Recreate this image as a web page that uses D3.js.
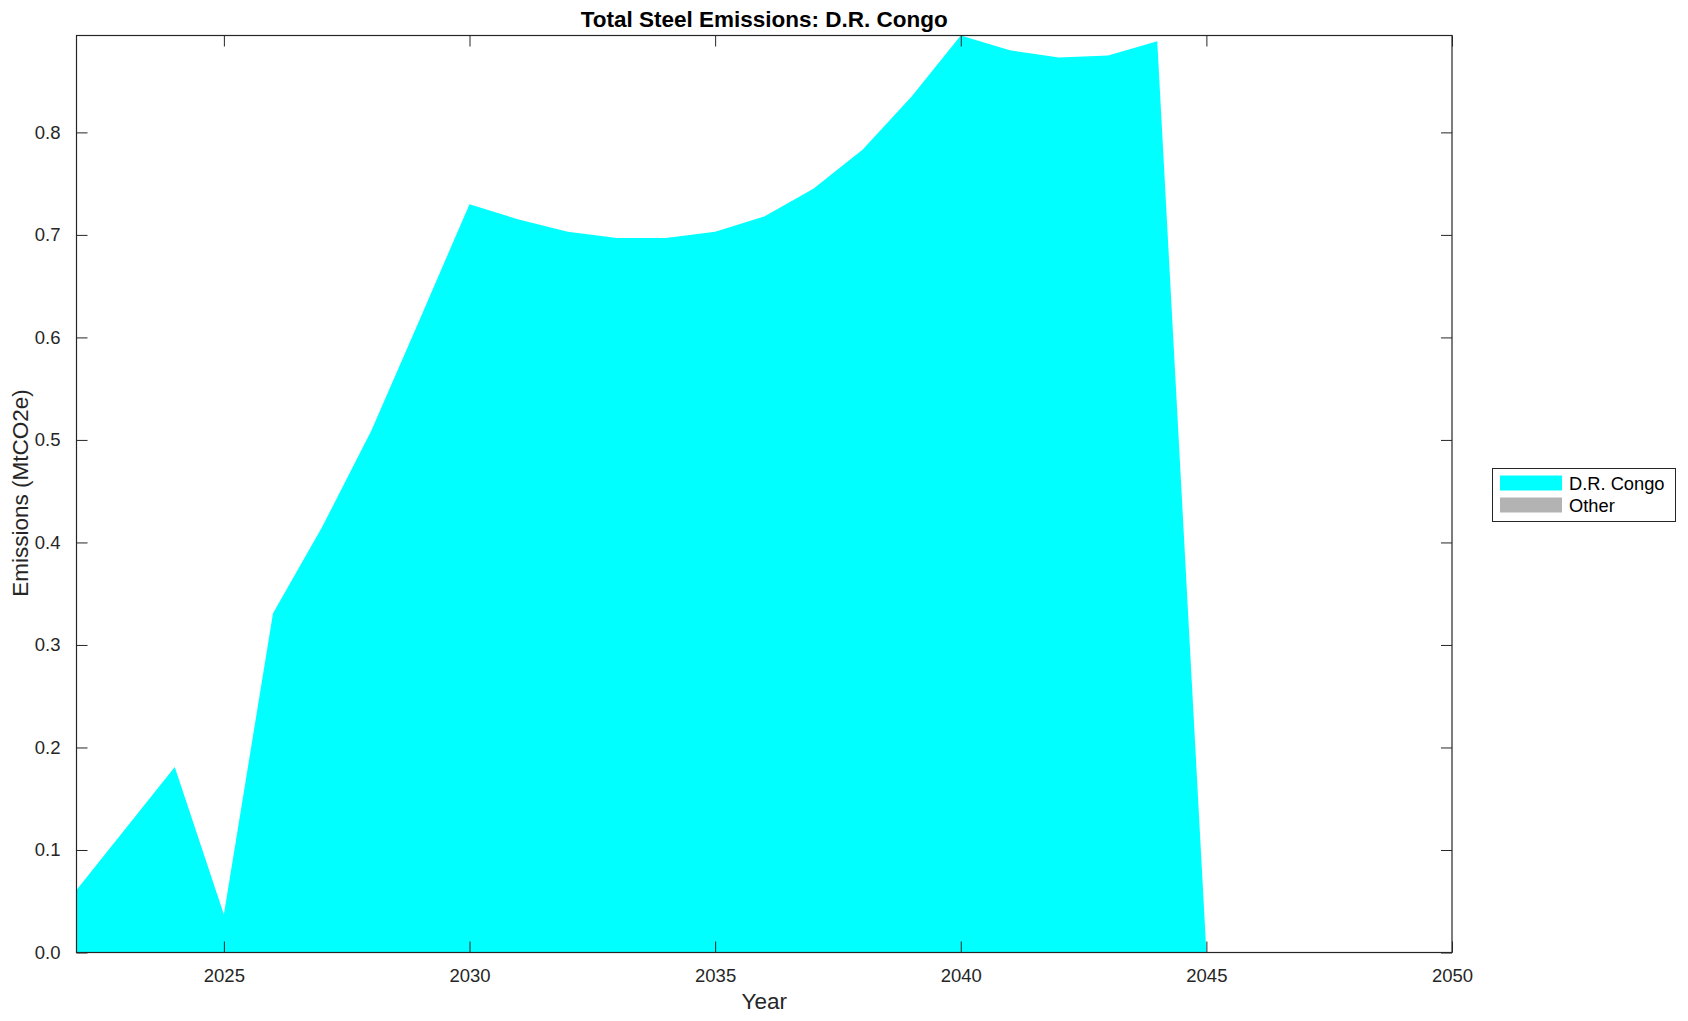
<!DOCTYPE html>
<html><head><meta charset="utf-8">
<script src="https://cdn.jsdelivr.net/npm/d3@7"></script>
<style>body{margin:0;background:#fff;} text{font-family:"Liberation Sans",Arial,Helvetica,sans-serif;}</style>
</head><body>
<svg id="c" width="1688" height="1021"></svg>
<script>
const years = [2022,2023,2024,2025,2026,2027,2028,2029,2030,2031,2032,2033,2034,2035,2036,2037,2038,2039,2040,2041,2042,2043,2044,2045,2046,2047,2048,2049,2050];
const congo = [0.061,0.121,0.181,0.037,0.331,0.415,0.509,0.619,0.730,0.715,0.703,0.697,0.697,0.703,0.718,0.745,0.783,0.835,0.8945,0.880,0.873,0.875,0.889,0,0,0,0,0,0];
const other = years.map(()=>0);
const seriesNames = ["D.R. Congo","Other"];
const seriesColors = ["#00FFFF","#B3B3B3"];
const xTicks = [2025,2030,2035,2040,2045,2050];
const yTicks = [0,0.1,0.2,0.3,0.4,0.5,0.6,0.7,0.8];

const svg = d3.select("#c");
const L=76.5, R=1452, T=35.5, B=952.5;
const x = d3.scaleLinear().domain([2022,2050]).range([L,R]);
const y = d3.scaleLinear().domain([0,0.8945]).range([B,T]);

const table = years.map((yr,i)=>({year:yr,"D.R. Congo":congo[i],"Other":other[i]}));
const stack = d3.stack().keys(seriesNames)(table);
const area = d3.area().x(d=>x(d.data.year)).y0(d=>y(d[0])).y1(d=>y(d[1]));
svg.append("g").selectAll("path").data(stack).join("path")
  .attr("d",area).attr("fill",(d,i)=>seriesColors[i]).attr("stroke","none");

const ax = "#262626";
const tl = 11;
svg.append("rect").attr("x",L).attr("y",T).attr("width",R-L).attr("height",B-T)
  .attr("fill","none").attr("stroke",ax).attr("stroke-width",1.2);
const gx = svg.append("g").attr("transform",`translate(0,${B})`)
  .call(d3.axisBottom(x).tickValues(xTicks).tickFormat(d3.format("d")).tickSizeInner(-tl).tickSizeOuter(0).tickPadding(16));
const gxt = svg.append("g").attr("transform",`translate(0,${T})`)
  .call(d3.axisTop(x).tickValues(xTicks).tickFormat("").tickSizeInner(-tl).tickSizeOuter(0));
const gy = svg.append("g").attr("transform",`translate(${L},0)`)
  .call(d3.axisLeft(y).tickValues(yTicks).tickFormat(d3.format(".1f")).tickSizeInner(-tl).tickSizeOuter(0).tickPadding(16));
const gyr = svg.append("g").attr("transform",`translate(${R},0)`)
  .call(d3.axisRight(y).tickValues(yTicks).tickFormat("").tickSizeInner(-tl).tickSizeOuter(0));
[gx,gxt,gy,gyr].forEach(g=>{
  g.select(".domain").remove();
  g.selectAll("line").attr("stroke",ax).attr("stroke-width",1);
  g.selectAll("text").attr("fill",ax).style("font-size","18.5px").style("font-family","'Liberation Sans',Arial,sans-serif");
});

svg.append("text").attr("x",(L+R)/2).attr("y",27).attr("text-anchor","middle")
  .style("font-size","22.5px").style("font-weight","bold").attr("fill","#000")
  .text("Total Steel Emissions: D.R. Congo");
svg.append("text").attr("x",(L+R)/2).attr("y",1009).attr("text-anchor","middle")
  .style("font-size","22.5px").attr("fill",ax).text("Year");
svg.append("text").attr("transform",`translate(28,${(T+B)/2 - 1}) rotate(-90)`).attr("text-anchor","middle")
  .style("font-size","22.5px").attr("fill",ax).text("Emissions (MtCO2e)");

const lg = svg.append("g");
lg.append("rect").attr("x",1492.5).attr("y",468.5).attr("width",183).attr("height",53)
  .attr("fill","#fff").attr("stroke",ax).attr("stroke-width",1);
seriesNames.forEach((n,i)=>{
  const yy = 483 + i*22;
  lg.append("rect").attr("x",1500).attr("y",yy-7.5).attr("width",62).attr("height",15).attr("fill",seriesColors[i]);
  lg.append("text").attr("x",1569).attr("y",yy+6.5).style("font-size","18.3px").attr("fill","#000").text(n);
});
</script>
</body></html>
